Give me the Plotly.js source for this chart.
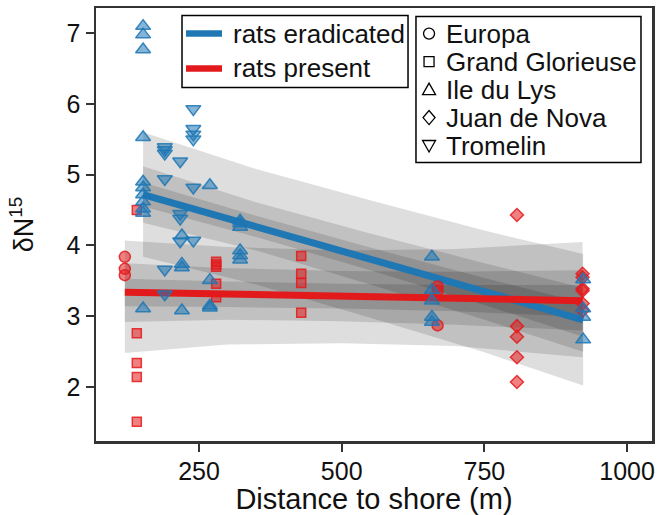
<!DOCTYPE html>
<html>
<head>
<meta charset="utf-8">
<script src="https://cdn.plot.ly/plotly-3.0.1.min.js"></script>
<style>
  html, body { margin: 0; padding: 0; background: #fff; }
  #chart { width: 657px; height: 515px; }
</style>
</head>
<body>
<div id="chart"></div>
<script>
// ---- Stable isotope samples (delta N15) by distance to shore, per island ----
// Rats present
const europaX = [120, 120, 120, 668, 668, 668];
const europaY = [3.84, 3.67, 3.58, 3.42, 3.36, 2.87];

const glorieuseX = [141, 141, 141, 141, 141, 280, 280, 280, 280, 280, 429, 429, 429, 429];
const glorieuseY = [4.50, 2.76, 2.34, 2.14, 1.51, 3.77, 3.73, 3.70, 3.46, 3.27, 3.85, 3.60, 3.47, 3.05];

const juanX = [807, 807, 807, 807, 807, 922, 922, 922, 922, 922, 922];
const juanY = [4.43, 2.86, 2.71, 2.42, 2.07, 3.60, 3.55, 3.39, 3.36, 3.18, 3.08];

// Rats eradicated
const lysX = [152, 152, 152, 152, 152, 152, 152, 152, 152, 152, 152,
              220, 220, 220, 220,
              269, 269, 269, 269,
              322, 322, 322, 322, 322, 322,
              658, 658, 658, 658, 658,
              923, 923, 923, 923];
const lysY = [7.10, 6.98, 6.77, 5.53, 4.90, 4.82, 4.72, 4.62, 4.52, 4.46, 3.11,
              4.14, 3.74, 3.69, 3.08,
              4.85, 3.51, 3.15, 3.12,
              4.35, 4.31, 4.26, 3.93, 3.86, 3.80,
              3.84, 3.37, 3.22, 2.99, 2.92,
              3.52, 3.11, 2.99, 2.67];

const tromelinX = [190, 190, 190, 190, 190, 190,
                   217, 217, 217, 217,
                   240, 240, 240, 240, 240, 240];
const tromelinY = [5.39, 5.35, 5.30, 4.94, 3.66, 3.31,
                   5.19, 4.45, 4.38, 4.06,
                   5.93, 5.65, 5.57, 5.50, 4.82, 4.07];

// ---- Fitted trends ----
const fitEradX = [152, 923];
const fitEradY = [4.72, 2.95];
const fitPresX = [120, 922];
const fitPresY = [3.34, 3.22];

// ---- Interval bands (outer / middle / inner) ----
const bandEradX = [152, 350, 550, 750, 923];
const eradOuterHi = [5.60, 5.08, 4.64, 4.21, 3.88];
const eradOuterLo = [3.84, 3.45, 2.98, 2.49, 2.02];
const eradMidHi   = [5.12, 4.61, 4.17, 3.75, 3.40];
const eradMidLo   = [4.32, 3.93, 3.45, 2.95, 2.50];
const eradInnerHi = [4.89, 4.42, 3.97, 3.54, 3.19];
const eradInnerLo = [4.55, 4.12, 3.65, 3.16, 2.71];

const bandPresX = [120, 300, 500, 700, 922];
const presOuterHi = [4.07, 3.98, 3.93, 3.95, 4.05];
const presOuterLo = [2.48, 2.60, 2.62, 2.58, 2.42];
const presMidHi   = [3.75, 3.68, 3.64, 3.63, 3.65];
const presMidLo   = [2.92, 2.95, 2.93, 2.88, 2.80];
const presInnerHi = [3.53, 3.49, 3.46, 3.44, 3.44];
const presInnerLo = [3.14, 3.13, 3.11, 3.07, 2.99];

// ---- Legend labels ----
const groupLabels = ['rats eradicated', 'rats present'];
const islandLabels = ['Europa', 'Grand Glorieuse', 'Ile du Lys', 'Juan de Nova', 'Tromelin'];

const FONT = 'Liberation Sans, Arial, Helvetica, sans-serif';
const BLUE = '#1f77b4';
const RED = '#e31a1c';
const BAND_FILL = 'rgba(0,0,0,0.13)';

function band(xs, hi, lo) {
  return {
    x: xs.concat(xs.slice().reverse()),
    y: hi.concat(lo.slice().reverse()),
    type: 'scatter', mode: 'lines', fill: 'toself',
    fillcolor: BAND_FILL, line: {width: 0},
    hoverinfo: 'skip', showlegend: false
  };
}

function points(xs, ys, symbol, color, size) {
  return {
    x: xs, y: ys, type: 'scatter', mode: 'markers', showlegend: false,
    marker: {
      symbol: symbol, size: size,
      color: color === BLUE ? 'rgba(31,119,180,0.55)' : 'rgba(227,26,28,0.55)',
      line: {color: color === BLUE ? 'rgba(31,119,180,0.85)' : 'rgba(227,26,28,0.85)', width: 1.5}
    }
  };
}

const traces = [
  band(bandEradX, eradOuterHi, eradOuterLo),
  band(bandEradX, eradMidHi, eradMidLo),
  band(bandEradX, eradInnerHi, eradInnerLo),
  band(bandPresX, presOuterHi, presOuterLo),
  band(bandPresX, presMidHi, presMidLo),
  band(bandPresX, presInnerHi, presInnerLo),
  {x: fitEradX, y: fitEradY, type: 'scatter', mode: 'lines', name: groupLabels[0],
   line: {color: BLUE, width: 7}, showlegend: false},
  {x: fitPresX, y: fitPresY, type: 'scatter', mode: 'lines', name: groupLabels[1],
   line: {color: RED, width: 7}, showlegend: false},
  points(europaX, europaY, 'circle', RED, 11),
  points(glorieuseX, glorieuseY, 'square', RED, 9),
  points(juanX, juanY, 'diamond', RED, 10),
  points(lysX, lysY, 'triangle-up', BLUE, 13),
  points(tromelinX, tromelinY, 'triangle-down', BLUE, 13)
];

// ---- Keys: framed boxes with line samples / outlined symbols and labels ----
const shapes = [];
const annotations = [];
function label(text, x, y) {
  annotations.push({
    text: text, xref: 'paper', yref: 'paper', x: x, y: y,
    xanchor: 'left', yanchor: 'middle', showarrow: false,
    font: {family: FONT, size: 26, color: '#111'}
  });
}
function frame(x0, x1, y0, y1) {
  shapes.push({type: 'rect', xref: 'paper', yref: 'paper', x0: x0, x1: x1, y0: y0, y1: y1,
    line: {color: '#000', width: 1.5}, fillcolor: '#fff', layer: 'above'});
}

// group key (fitted line colours)
const groupKey = {left: 0.1547, right: 0.5612, top: 0.9827, bottom: 0.8165,
                  rows: [0.9411, 0.8603], textX: 0.2428};
frame(groupKey.left, groupKey.right, groupKey.bottom, groupKey.top);
[BLUE, RED].forEach((c, i) => {
  shapes.push({type: 'line', xref: 'paper', yref: 'paper', xsizemode: 'pixel', ysizemode: 'pixel',
    xanchor: groupKey.left, yanchor: groupKey.rows[i], x0: 4, x1: 40, y0: 0, y1: 0,
    line: {color: c, width: 6.5}, layer: 'above'});
  label(groupLabels[i], groupKey.textX, groupKey.rows[i]);
});

// island key (marker shapes), evenly spaced rows
const islandKey = {left: 0.5755, right: 0.9802, top: 0.9804, bottom: 0.6434,
                   rows: [0.9409, 0.8763, 0.8116, 0.7470, 0.6824], symX: 0.599, textX: 0.6259};
frame(islandKey.left, islandKey.right, islandKey.bottom, islandKey.top);
const keyLine = {color: '#000', width: 1.3};
const symbolShapes = [
  {type: 'circle', x0: -5.5, x1: 5.5, y0: -5.5, y1: 5.5},
  {type: 'rect', x0: -5, x1: 5, y0: -5, y1: 5},
  {type: 'path', path: 'M-6.5,-5 L6.5,-5 L0,6.5 Z'},
  {type: 'path', path: 'M0,-7 L6,0 L0,7 L-6,0 Z'},
  {type: 'path', path: 'M-6.5,5 L6.5,5 L0,-6.5 Z'}
];
symbolShapes.forEach((s, i) => {
  shapes.push(Object.assign({xref: 'paper', yref: 'paper', xsizemode: 'pixel', ysizemode: 'pixel',
    xanchor: islandKey.symX, yanchor: islandKey.rows[i], line: keyLine, layer: 'above'}, s));
  label(islandLabels[i], islandKey.textX, islandKey.rows[i]);
});

const axisCommon = {
  showline: true, mirror: true, linecolor: '#333', linewidth: 2.5,
  ticks: 'outside', ticklen: 8, tickwidth: 2, tickcolor: '#333',
  showgrid: false, zeroline: false,
  tickfont: {family: FONT, size: 25, color: '#111'}
};

const layout = {
  width: 657, height: 515,
  margin: {l: 96, r: 5, t: 8, b: 74, pad: 0},
  paper_bgcolor: '#fff', plot_bgcolor: '#fff',
  font: {family: FONT, color: '#111'},
  showlegend: false,
  xaxis: Object.assign({}, axisCommon, {
    range: [69.5, 1043.6], tickvals: [250, 500, 750, 1000], ticklabelstandoff: -2,
    title: {text: 'Distance to shore (m)', font: {family: FONT, size: 29, color: '#111'}, standoff: 8}
  }),
  yaxis: Object.assign({}, axisCommon, {
    range: [1.237, 7.356], tickvals: [2, 3, 4, 5, 6, 7],
    title: {text: 'δN<sup>15</sup>', font: {family: FONT, size: 27, color: '#111'}, standoff: 25}
  }),
  shapes: shapes,
  annotations: annotations
};

Plotly.newPlot('chart', traces, layout, {displayModeBar: false, staticPlot: true});
</script>
</body>
</html>
